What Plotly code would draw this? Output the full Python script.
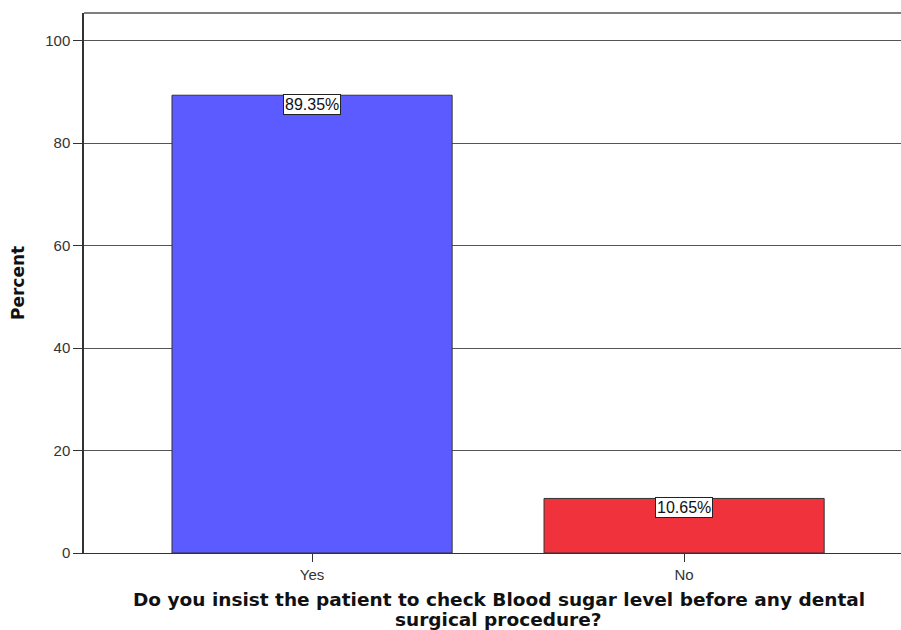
import plotly.graph_objects as go

categories = ["Yes", "No"]
percents = [89.35, 10.65]
labels = ["89.35%", "10.65%"]
bar_colors = ["#5b5bff", "#f0323c"]
y_ticks = [0, 20, 40, 60, 80, 100]
x_title_lines = ["Do you insist the patient to check Blood sugar level before any dental",
                 "surgical procedure?"]
y_title = "Percent"

fig = go.Figure()
fig.add_trace(go.Bar(
    x=[0, 1], y=percents, width=0.753,
    marker=dict(color=bar_colors, line=dict(color="#333333", width=1)),
    showlegend=False, hoverinfo="skip",
))

for i, (v, t) in enumerate(zip(percents, labels)):
    fig.add_annotation(
        x=i, y=v, text=t, showarrow=False, yanchor="top", yshift=1,
        bgcolor="white", bordercolor="#222222", borderwidth=1, borderpad=1,
        font=dict(family="Liberation Sans, Arial", size=16, color="#111111"),
    )

for line, yp in zip(x_title_lines, [-0.0852, -0.124]):
    fig.add_annotation(
        x=(499 - 84) / 817, xref="paper", y=yp, yref="paper", yanchor="middle", xanchor="center",
        text="<b>" + line + "</b>", showarrow=False,
        font=dict(family="DejaVu Sans", size=18.5, color="#111111"),
    )

fig.add_annotation(
    x=(18 - 84) / 817, xref="paper", y=0.5, yref="paper", xanchor="center", yanchor="middle",
    text="<b>" + y_title + "</b>", textangle=-90, showarrow=False,
    font=dict(family="DejaVu Sans", size=17, color="#111111"),
)

fig.update_layout(
    width=901, height=630,
    margin=dict(l=84, r=0, t=13, b=77),
    plot_bgcolor="white", paper_bgcolor="white",
    xaxis=dict(
        range=[-0.613, 1.583], tickvals=[0, 1], ticktext=categories,
        ticks="outside", ticklen=8, tickcolor="#333333", tickwidth=1,
        showline=True, linecolor="#333333", linewidth=1,
        showgrid=False, zeroline=False,
        tickfont=dict(family="Liberation Sans, Arial", size=15, color="#333333"),
    ),
    yaxis=dict(
        range=[0, 105.4], tickvals=y_ticks,
        ticks="outside", ticklen=9, tickcolor="#333333", tickwidth=1,
        showline=True, linecolor="#333333", linewidth=1.5, mirror=False,
        showgrid=True, gridcolor="#555555", gridwidth=1.3, zeroline=False,
        tickfont=dict(family="Liberation Sans, Arial", size=15, color="#333333"),
    ),
    shapes=[dict(type="line", xref="paper", yref="paper", x0=0, x1=1, y0=1, y1=1,
                 line=dict(color="#555555", width=1.5))],
)

fig.write_html(
    "out.html",
    config={"displayModeBar": False},
    post_script="document.body.style.margin='0';document.body.style.overflow='hidden';",
)
